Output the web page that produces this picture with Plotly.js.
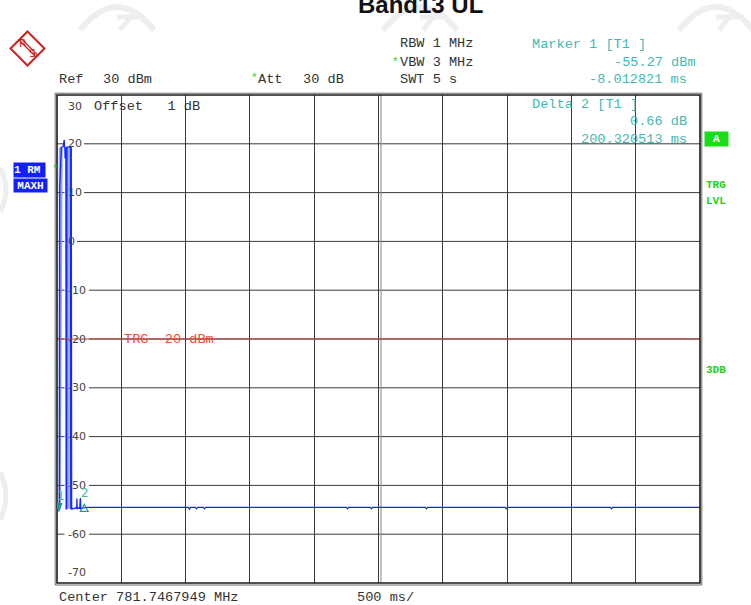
<!DOCTYPE html>
<html><head><meta charset="utf-8">
<script src="https://cdn.plot.ly/plotly-3.0.1.min.js"></script>
<style>html,body{margin:0;padding:0;background:#fff;}#chart{width:751px;height:605px;}</style>
</head><body><div id="chart"></div>
<script>
// ---------- data ----------
const sweepTimes  = [-20, -14, -8.012821, -3, 0, 1, 14, 28, 31, 36, 39, 41, 43, 45, 49, 51, 55, 57, 85, 87, 89, 91, 94,
                     100, 110, 126, 133, 135, 137, 142, 150, 157, 160, 162, 165, 170, 180, 192.307692, 210,
                     1001, 1010, 1019, 1056, 1065, 1074, 1118, 1127, 1136, 2230, 2239, 2248, 2416, 2425, 2434,
                     2844, 2853, 2862, 3466, 3475, 3484, 4283, 4292, 4301, 4980];
const sweepLevels = [-54.6, -54.8, -55.27, -54.9, -54.8, 11, 19.3, 19.4, 20.8, 20.8, 19.4, 19.3, 17.0, 19.3, 19.3, -54.8, -54.8, 19.3, 19.3, -54.8, -54.8, 19.3, -54.9,
                     -54.7, -54.8, -54.6, -54.7, -52.7, -54.8, -54.7, -54.6, -54.8, -53.0, -52.6, -54.8, -54.7, -54.6, -54.61, -54.5,
                     -54.5, -54.85, -54.5, -54.5, -54.8, -54.5, -54.5, -54.8, -54.5, -54.5, -54.8, -54.5, -54.5, -54.8, -54.5,
                     -54.5, -54.8, -54.5, -54.5, -54.8, -54.5, -54.5, -54.8, -54.5, -54.5];
const bandATimes  = [-11, -6, 25, 8];
const bandALevels = [-54.8, 19.3, 19.3, -54.8];
const bandBTimes  = [58, 58, 80, 80];
const bandBLevels = [-54.8, 19.3, 19.3, -54.8];
const markerNames  = ['1', '2'];
const markerTimes  = [-8.012821, 192.307692];
const markerLevels = [-55.27, -54.61];
const triggerLevel = -20;
const yTickValues  = [30, 20, 10, 0, -10, -20, -30, -40, -50, -60, -70];
const xRange = [-20, 4980];
const yRange = [-70, 30];

// ---------- layout helpers ----------
const L = 57, R = 700, T = 95, B = 583;
const px = x => (x - L) / (R - L);
const py = y => (B - y) / (B - T);
const MONO = 'Liberation Mono, Courier New, monospace';
const SANS = 'DejaVu Sans, sans-serif';
const TEAL = '#3fbab4';
const GREEN = '#22d022';
const ann = [];
function txt(x, y, text, o) {
  o = o || {};
  ann.push(Object.assign({
    xref: 'paper', yref: 'paper', x: px(x), y: py(y), text: text, showarrow: false,
    xanchor: o.anchor || 'left', yanchor: 'middle', borderpad: 0,
    font: {family: o.fam || MONO, size: o.size || 13.6, color: o.color || '#333'}
  }, o.extra || {}));
}

// title
txt(420, 4, '<b>Band13 UL</b>', {anchor: 'center', fam: 'Liberation Sans, Arial, sans-serif', size: 24, color: '#111'});
// header
txt(57.5, 80, 'Ref');
txt(102, 80, '30 dBm');
txt(250, 78, '*', {color: GREEN, size: 11});
txt(257, 80, 'Att');
txt(302, 80, '30 dB');
txt(399, 44, 'RBW 1 MHz');
txt(391, 62, '*', {color: GREEN, size: 11});
txt(399, 63, 'VBW 3 MHz');
txt(399, 80, 'SWT 5 s');
txt(531, 45, 'Marker 1 [T1 ]', {color: TEAL});
txt(697, 63, '-55.27 dBm', {anchor: 'right', color: TEAL});
txt(688, 80, '-8.012821 ms', {anchor: 'right', color: TEAL});
txt(531, 104, 'Delta 2 [T1 ]', {color: TEAL});
txt(688, 121, '0.66 dB', {anchor: 'right', color: TEAL});
txt(688, 139, '200.320513 ms', {anchor: 'right', color: TEAL});
txt(92.5, 106, 'Offset   1 dB');
// footer
txt(57.5, 597, 'Center 781.7467949 MHz');
txt(356, 597, '500 ms/');
// side boxes
txt(13, 170, '<b>1 RM</b>', {size: 11, color: '#fff', extra: {bgcolor: '#1220ff', width: 31, height: 14, align: 'left', xanchor: 'left'}});
txt(51, 169, '*', {color: GREEN, size: 11});
txt(13, 185.5, '<b>MAXH</b>', {size: 11, color: '#fff', extra: {bgcolor: '#1220ff', width: 33, height: 13}});
txt(704, 139, '<b>A</b>', {size: 11, color: '#fff', extra: {bgcolor: '#18dd18', width: 23, height: 14}});
txt(705, 185, '<b>TRG</b>', {size: 11, color: GREEN});
txt(705, 201, '<b>LVL</b>', {size: 11, color: GREEN});
txt(705, 370, '<b>3DB</b>', {size: 11, color: GREEN});
// R&S logo letters
txt(22.5, 43, 'R', {anchor: 'center', fam: SANS, size: 11, color: '#cc2222'});
txt(32.5, 54, 'S', {anchor: 'center', fam: SANS, size: 11, color: '#cc2222'});
// trigger label
txt(123, 339.5, 'TRG -20 dBm', {color: '#f04a3a'});

// y tick labels inside the diagram
yTickValues.forEach(v => {
  let shift = 0;
  if (v === yRange[1]) shift = -11;
  if (v === yRange[0]) shift = 10.5;
  ann.push({xref: 'paper', yref: 'y', x: px(66.5), y: v, yshift: shift, text: String(v), showarrow: false,
            xanchor: 'left', yanchor: 'middle', borderpad: 0, font: {family: SANS, size: 11, color: '#444'}});
});
// marker numbers
markerNames.forEach((n, i) => {
  ann.push({xref: 'x', yref: 'y', x: markerTimes[i], y: markerLevels[i], text: n, showarrow: false,
            xanchor: 'center', yanchor: 'middle', xshift: i === 0 ? 2 : 1, yshift: 15,
            font: {family: SANS, size: 12, color: TEAL}});
});

// ---------- shapes ----------
const shapes = [];
// horizontal grid with gaps for labels
yTickValues.forEach(v => {
  if (v === yRange[0] || v === yRange[1]) return;
  const w = String(v).length * 7 + (v < 0 ? -2 : 0);
  shapes.push({type: 'line', xref: 'paper', yref: 'y', x0: 0, x1: px(64.5), y0: v, y1: v, layer: 'below', line: {color: '#3a3a3a', width: 1}});
  shapes.push({type: 'line', xref: 'paper', yref: 'y', x0: px(68 + w + 2), x1: 1, y0: v, y1: v, layer: 'below', line: {color: '#3a3a3a', width: 1}});
});
// doubled centre line
shapes.push({type: 'line', xref: 'paper', yref: 'paper', x0: px(381), x1: px(381), y0: 0, y1: 1, layer: 'below', line: {color: '#888', width: 1}});
// trigger level line
shapes.push({type: 'line', xref: 'paper', yref: 'y', x0: 0, x1: 1, y0: triggerLevel, y1: triggerLevel, line: {color: '#b8392e', width: 1}});
// frame
shapes.push({type: 'rect', xref: 'paper', yref: 'paper', x0: 0, x1: 1, y0: 0, y1: 1, line: {color: '#1a1a1a', width: 1.6}});
shapes.push({type: 'rect', xref: 'paper', yref: 'paper', x0: px(55.2), x1: px(701.8), y0: py(585), y1: py(93.2), line: {color: '#6a6a6a', width: 1}});
// marker symbols
shapes.push({type: 'path', xref: 'x', yref: 'y', xsizemode: 'pixel', ysizemode: 'pixel',
  xanchor: markerTimes[0], yanchor: markerLevels[0], path: 'M -3.5 7.5 L 3.5 7.5 L 0 0 Z',
  fillcolor: '#1f9c90', line: {color: '#1f9c90', width: 1}});
shapes.push({type: 'path', xref: 'x', yref: 'y', xsizemode: 'pixel', ysizemode: 'pixel',
  xanchor: markerTimes[1], yanchor: markerLevels[1], path: 'M -3.8 -3.4 L 3.8 -3.4 L 0 3.6 Z',
  fillcolor: 'rgba(0,0,0,0)', line: {color: '#1f9c90', width: 1.2}});
// R&S logo
const pth = pts => pts.map((p, i) => (i ? 'L ' : 'M ') + px(p[0]) + ' ' + py(p[1])).join(' ');
shapes.push({type: 'path', xref: 'paper', yref: 'paper', path: pth([[27.5, 31.5], [44.5, 48.5], [27.5, 65.5], [10.5, 48.5]]) + ' Z', line: {color: '#cc2222', width: 2}});
shapes.push({type: 'path', xref: 'paper', yref: 'paper', path: pth([[18.5, 39.5], [36, 57]]), line: {color: '#cc2222', width: 1.3}});
shapes.push({type: 'path', xref: 'paper', yref: 'paper', path: pth([[20.5, 38], [38, 55.5]]), line: {color: '#cc2222', width: 1.3}});
// faint watermark arcs
function arc(cx) {
  const a = 'M ' + px(cx - 37) + ' ' + py(30) + ' Q ' + px(cx) + ' ' + py(-16) + ' ' + px(cx + 37) + ' ' + py(30);
  shapes.push({type: 'path', xref: 'paper', yref: 'paper', layer: 'below', path: a, line: {color: '#eeeeee', width: 6}});
  shapes.push({type: 'path', xref: 'paper', yref: 'paper', layer: 'below', path: pth([[cx, 17], [cx + 28, 17]]), line: {color: '#eeeeee', width: 5}});
  shapes.push({type: 'path', xref: 'paper', yref: 'paper', layer: 'below', path: pth([[cx + 3, 30], [cx + 15, 15]]), line: {color: '#eeeeee', width: 5}});
}
arc(117); arc(420); arc(716);
function leftArc(y0, y1) {
  const m = (y0 + y1) / 2;
  shapes.push({type: 'path', xref: 'paper', yref: 'paper', layer: 'below',
    path: 'M ' + px(0) + ' ' + py(y0) + ' Q ' + px(12) + ' ' + py(m) + ' ' + px(0) + ' ' + py(y1), line: {color: '#eeeeee', width: 5}});
}
leftArc(168, 212); leftArc(472, 520);

// ---------- traces ----------
const traces = [
  {x: bandATimes, y: bandALevels, type: 'scatter', mode: 'lines', fill: 'toself', fillcolor: 'rgba(120,140,255,0.75)', line: {width: 0}, hoverinfo: 'skip'},
  {x: bandBTimes, y: bandBLevels, type: 'scatter', mode: 'lines', fill: 'toself', fillcolor: 'rgba(120,140,255,0.75)', line: {width: 0}, hoverinfo: 'skip'},
  {x: sweepTimes, y: sweepLevels, type: 'scatter', mode: 'lines', line: {color: '#1428ff', width: 1.3}, hoverinfo: 'skip'}
];

const layout = {
  width: 751, height: 605,
  margin: {l: L, r: 751 - R, t: T, b: 605 - B, pad: 0},
  paper_bgcolor: '#ffffff', plot_bgcolor: 'rgba(0,0,0,0)',
  showlegend: false,
  xaxis: {range: xRange, tick0: xRange[0], dtick: 500, showgrid: true, gridcolor: '#3a3a3a', gridwidth: 1,
          showticklabels: false, ticks: '', zeroline: false, showline: false, fixedrange: true},
  yaxis: {range: yRange, showgrid: false, showticklabels: false, ticks: '', zeroline: false, showline: false, fixedrange: true},
  annotations: ann,
  shapes: shapes
};
Plotly.newPlot('chart', traces, layout, {displayModeBar: false, staticPlot: true});
</script></body></html>
